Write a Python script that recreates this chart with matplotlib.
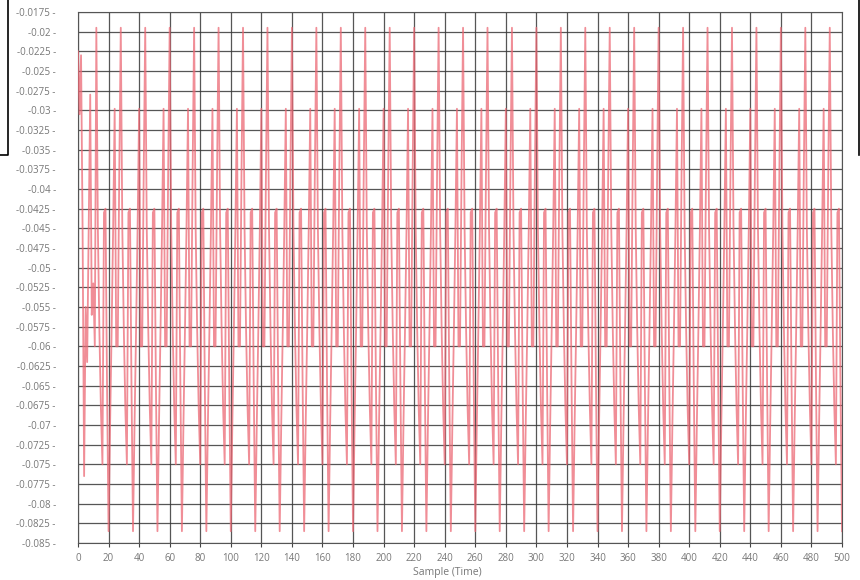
import numpy as np
import matplotlib
matplotlib.use("Agg")
import matplotlib.pyplot as plt
from matplotlib.lines import Line2D
from matplotlib.ticker import FuncFormatter

# first 12 samples before the signal settles into its 16-sample cycle
lead_in = [-0.0225, -0.0305, -0.0230, -0.0450, -0.0765, -0.0550,
           -0.0620, -0.0450, -0.0280, -0.0560, -0.0520, -0.0600]
# one repeat of the steady waveform (starts on the -0.02 spike)
cycle = [-0.0195, -0.0450, -0.0580, -0.0680, -0.0750, -0.0430,
         -0.0425, -0.0650, -0.0835, -0.0700, -0.0580, -0.0450,
         -0.0298, -0.0600, -0.0600, -0.0380]
n_samples = 501

x_ticks = list(range(0, 501, 20))
y_ticks = [-0.085, -0.0825, -0.08, -0.0775, -0.075, -0.0725, -0.07, -0.0675,
           -0.065, -0.0625, -0.06, -0.0575, -0.055, -0.0525, -0.05, -0.0475,
           -0.045, -0.0425, -0.04, -0.0375, -0.035, -0.0325, -0.03, -0.0275,
           -0.025, -0.0225, -0.02, -0.0175]

values = (lead_in + cycle * 40)[:n_samples]
samples = np.arange(len(values))

plt.rcParams['font.family'] = ['Open Sans', 'DejaVu Sans']

fig = plt.figure(figsize=(8.6, 5.8), dpi=100)
ax = fig.add_axes([78 / 860, 1 - 543 / 580, (842 - 78) / 860, (543 - 12) / 580])

ax.plot(samples, values, color='#ec6874', linewidth=1.3, alpha=0.75, zorder=3)

ax.set_xlim(0, 500)
ax.set_ylim(-0.085, -0.0175)
ax.set_xticks(x_ticks)
ax.set_yticks(y_ticks)
# y labels carry their own little dash, sitting away from the frame
ax.yaxis.set_major_formatter(FuncFormatter(lambda v, pos: f'{v:g} -'))
ax.grid(True, color='#383838', linewidth=0.9, alpha=0.85, zorder=1)
ax.set_axisbelow(True)

ax.tick_params(axis='y', labelsize=7, colors='#777777', length=0, pad=16)
ax.tick_params(axis='x', labelsize=7, colors='#777777', length=3, width=0.8,
               pad=4, color='#444444')
for side in ax.spines.values():
    side.set_color('#555555')
    side.set_linewidth(0.8)

ax.set_xlabel('Sample (Time)', fontsize=7.5, color='#777777', labelpad=5)
ax.xaxis.set_label_coords(447 / 860 - 78 / 860, 0, transform=fig.transFigure)
ax.xaxis.label.set_position((447 / 860, 1 - 573 / 580))
ax.xaxis.label.set_verticalalignment('center')

# window edges left over at the top corners
fig.add_artist(Line2D([0 / 860, 8 / 860, 8 / 860], [1 - 155 / 580, 1 - 155 / 580, 1.0],
                      transform=fig.transFigure, color='black', linewidth=1.2))
fig.add_artist(Line2D([859 / 860, 859 / 860], [1 - 155 / 580, 1.0],
                      transform=fig.transFigure, color='black', linewidth=1.2))

fig.savefig('out.png', dpi=100)
